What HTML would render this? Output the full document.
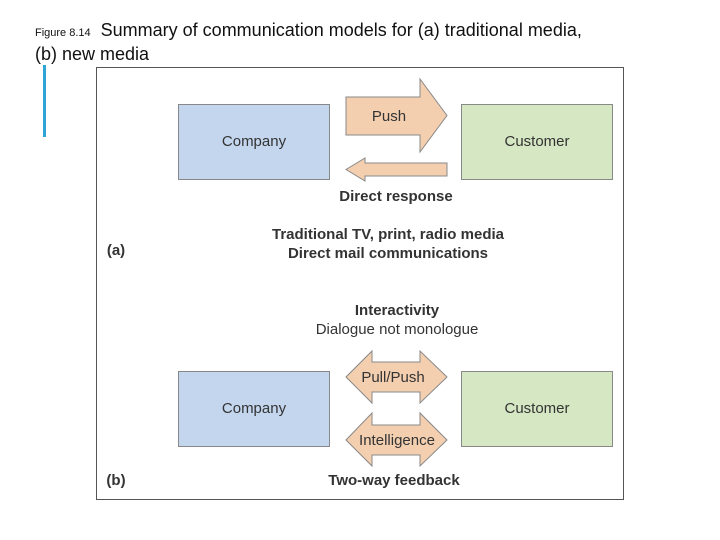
<!DOCTYPE html>
<html><head><style>
body{margin:0;width:720px;height:540px;background:#fff;position:relative;font-family:"Liberation Sans",sans-serif;overflow:hidden}
.t{position:absolute;white-space:nowrap}
</style></head><body>
<div class="t" style="left:35px;top:20px;font-size:18px;color:#111"><span style="font-size:11px">Figure 8.14</span>&nbsp;&nbsp;Summary of communication models for (a) traditional media,</div>
<div class="t" style="left:35px;top:44px;font-size:18px;color:#111">(b) new media</div>
<div style="position:absolute;left:43px;top:65px;width:3px;height:72px;background:#2ea3d6"></div>
<svg width="720" height="540" style="position:absolute;left:0;top:0" font-family="Liberation Sans, sans-serif">
<rect x="96.5" y="67.5" width="527" height="432" fill="none" stroke="#555" stroke-width="1"/>
<g stroke="#888" stroke-width="1">
<rect x="178.5" y="104.5" width="151" height="75" fill="#c3d6ee"/>
<rect x="461.5" y="104.5" width="151" height="75" fill="#d6e7c3"/>
<rect x="178.5" y="371.5" width="151" height="75" fill="#c3d6ee"/>
<rect x="461.5" y="371.5" width="151" height="75" fill="#d6e7c3"/>
<polygon points="346,97 420,97 420,79 447,115.5 420,152 420,135 346,135" fill="#f3cfb0"/>
<polygon points="346,169.5 365,158 365,163 447,163 447,176 365,176 365,181" fill="#f3cfb0"/>
<polygon points="346,377 372,351 372,362 420,362 420,351 447,377 420,403 420,392 372,392 372,403" fill="#f3cfb0"/>
<polygon points="346,440 372,413 372,425 420,425 420,413 447,440 420,466 420,455 372,455 372,466" fill="#f3cfb0"/>
</g>
<g fill="#333" font-size="15" text-anchor="middle">
<text x="254" y="146">Company</text>
<text x="537" y="146">Customer</text>
<text x="254" y="413">Company</text>
<text x="537" y="413">Customer</text>
<text x="389" y="121">Push</text>
<text x="393" y="382">Pull/Push</text>
<text x="397" y="445">Intelligence</text>
<text x="397" y="334">Dialogue not monologue</text>
</g>
<g fill="#333" font-size="15" font-weight="bold" text-anchor="middle">
<text x="396" y="201">Direct response</text>
<text x="388" y="239">Traditional TV, print, radio media</text>
<text x="388" y="258">Direct mail communications</text>
<text x="397" y="315">Interactivity</text>
<text x="394" y="485">Two-way feedback</text>
<text x="116" y="255">(a)</text>
<text x="116" y="485">(b)</text>
</g>
</svg>
</body></html>
